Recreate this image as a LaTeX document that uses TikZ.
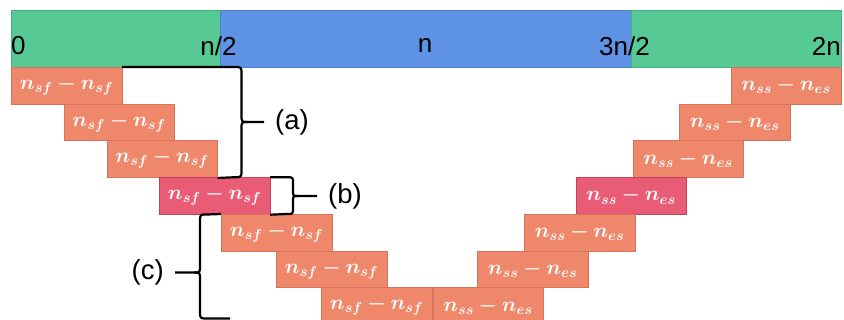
\documentclass[tikz,border=0pt]{standalone}
\usepackage{fontspec}
\setmainfont{Liberation Sans}
\usepackage{amsmath}
\usetikzlibrary{positioning}
\definecolor{mGreen}{HTML}{57C995}
\definecolor{mGreenDk}{HTML}{48B080}
\definecolor{mBlue}{HTML}{5E93E6}
\definecolor{mBlueDk}{HTML}{4C7FCC}
\definecolor{mSalmon}{HTML}{EF876B}
\definecolor{mSalmonDk}{HTML}{D6735A}
\definecolor{mRose}{HTML}{E85C76}
\definecolor{mRoseDk}{HTML}{C4405C}
\newcommand{\sfpair}{$n_{sf}\mskip3.5mu{-}\mskip3.5mu n_{sf}$}
\newcommand{\sspair}{$n_{ss}\mskip3.5mu{-}\mskip3.5mu n_{es}$}

\begin{document}
\begin{tikzpicture}[
  x=1pt, y=-1pt,
  seg/.style={draw=#1Dk, fill=#1, line width=0.8pt, minimum height=57pt, anchor=north west, inner sep=0},
  tick/.style={font=\fontsize{26}{30}\selectfont, inner sep=0},
  sfbox/.style={draw=mSalmonDk, fill=mSalmon, line width=0.7pt, minimum width=110.5pt, minimum height=36.75pt,
                anchor=north west, inner sep=0, text=white, font=\fontsize{21.5}{25}\selectfont\boldmath},
  hibox/.style={sfbox, draw=mRoseDk, fill=mRose},
  tag/.style={font=\fontsize{27.5}{31}\selectfont, inner xsep=11pt, inner ysep=0},
  brace/.style={line width=2.2pt, line join=round},
]
  \useasboundingbox (0,0) rectangle (844,320);

  % top bar
  \node[seg=mGreen, minimum width=209pt] (barL) at (11,10) {};
  \node[seg=mBlue,  minimum width=411pt] (barM) at (220,10) {};
  \node[seg=mGreen, minimum width=210pt] (barR) at (631,10) {};
  \node[tick, anchor=west] (t0) at (11,46) {0};
  \node[tick] (t1) at (218.5,46) {n/2};
  \node[tick] (t2) at (425,46) {n};
  \node[tick] (t3) at (624.5,46) {3n/2};
  \node[tick, anchor=east] (t4) at (841,46) {2n};

  % left staircase
  \node[sfbox] (sf1) at (11,67)      {\sfpair};
  \node[sfbox] (sf2) at (63.5,103.75) {\sfpair};
  \node[sfbox] (sf3) at (106.5,140.5) {\sfpair};
  \node[hibox] (sf4) at (159,177.25)  {\sfpair};
  \node[sfbox] (sf5) at (221,214)     {\sfpair};
  \node[sfbox] (sf6) at (276,250.75)  {\sfpair};
  \node[sfbox] (sf7) at (321,287.5)   {\sfpair};

  % right staircase
  \node[sfbox] (ss1) at (730.5,67)    {\sspair};
  \node[sfbox] (ss2) at (679,103.75)  {\sspair};
  \node[sfbox] (ss3) at (632.5,140.5) {\sspair};
  \node[hibox] (ss4) at (575.5,177.25) {\sspair};
  \node[sfbox] (ss5) at (524,214)     {\sspair};
  \node[sfbox] (ss6) at (477,250.75)  {\sspair};
  \node[sfbox] (ss7) at (432.5,287.5) {\sspair};

  % braces and their tags
  \node[tag, anchor=west] (ta) at (264,122) {(a)};
  \node[tag, anchor=west] (tb) at (317,196) {(b)};
  \node[tag, anchor=east] (tc) at (175,272.5) {(c)};
  \coordinate (cEnd) at (230,318.5);

  \draw[brace] (sf1.north east) -- (234,67) .. controls (241.5,67) .. (241.5,74)
    -- (241.5,115) .. controls (241.5,122) .. (248,122) -- (ta.west);
  \draw[brace] (sf3.south east) -- (234,177.25) .. controls (241.5,177.25) .. (241.5,170)
    -- (241.5,129) .. controls (241.5,122) .. (248,122);
  \draw[brace] (sf4.north east) -- (287,177.25) .. controls (293,177.25) .. (293,183)
    -- (293,190) .. controls (293,196) .. (298,196) -- (tb.west);
  \draw[brace] (sf4.south east) -- (287,214) .. controls (293,214) .. (293,208)
    -- (293,202) .. controls (293,196) .. (298,196);
  \draw[brace] (sf5.north west) -- (207,214.5) .. controls (200,214.5) .. (200,221.5)
    -- (200,265.5) .. controls (200,272.5) .. (194,272.5) -- (tc.east);
  \draw[brace] (cEnd) -- (207,318.5) .. controls (200,318.5) .. (200,311.5)
    -- (200,279.5) .. controls (200,272.5) .. (194,272.5);
\end{tikzpicture}
\end{document}
